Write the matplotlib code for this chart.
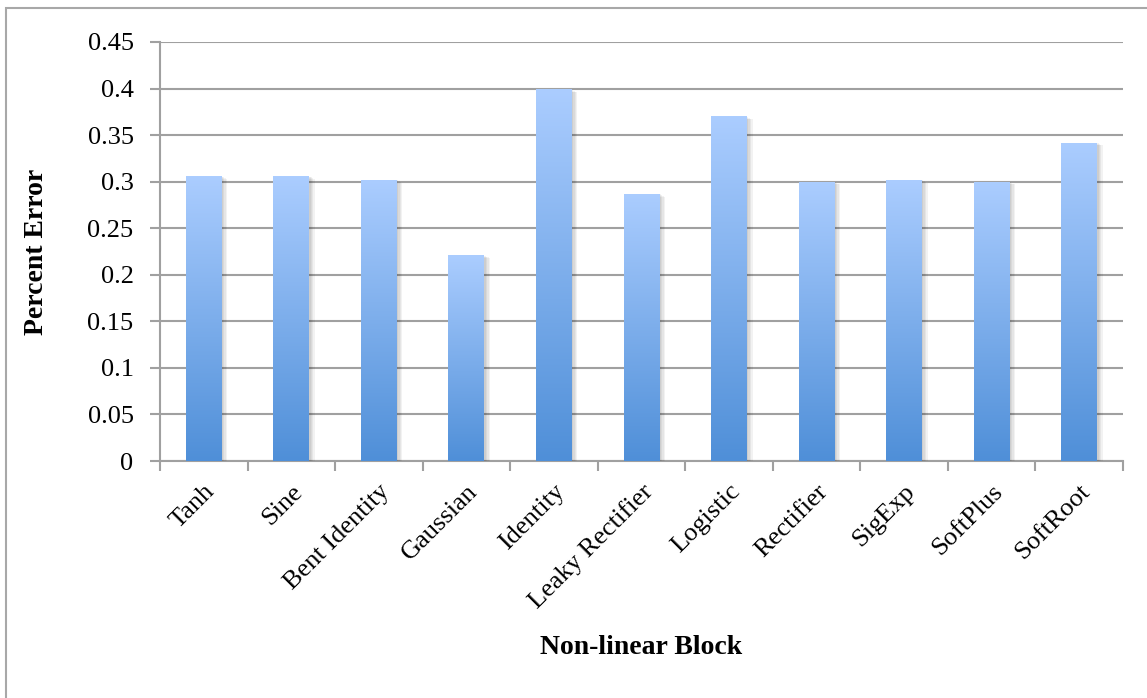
import numpy as np
import matplotlib
matplotlib.use('Agg')
import matplotlib.pyplot as plt
from matplotlib import patheffects as pe
from matplotlib.colors import LinearSegmentedColormap
from matplotlib.patches import Rectangle

blocks = ['Tanh', 'Sine', 'Bent Identity', 'Gaussian', 'Identity', 'Leaky Rectifier',
          'Logistic', 'Rectifier', 'SigExp', 'SoftPlus', 'SoftRoot']
errors = [0.306, 0.306, 0.302, 0.221, 0.399, 0.287, 0.370, 0.300, 0.302, 0.300, 0.342]
yticks = [0, 0.05, 0.1, 0.15, 0.2, 0.25, 0.3, 0.35, 0.4, 0.45]
ytick_labels = ['0', '0.05', '0.1', '0.15', '0.2', '0.25', '0.3', '0.35', '0.4', '0.45']

plt.rcParams['font.family'] = ['Liberation Serif', 'DejaVu Serif']

grid_col = '#a0a0a0'
fill = LinearSegmentedColormap.from_list('barfill', ['#4f8fd8', '#abcdff'])

fig = plt.figure(figsize=(11.47, 6.98), dpi=100)
# outer chart frame
fig.patches.append(Rectangle((6 / 1147, -0.1), 1.2, 1.1 - 8 / 698,
                             transform=fig.transFigure, fill=False,
                             edgecolor='#a8a8a8', linewidth=1.5))

ax = fig.add_axes([160 / 1147, 1 - 461 / 698, (1123 - 160) / 1147, (461 - 42) / 698])

x = np.arange(len(blocks))
width = 0.41
# soft drop shadow built from a few faint offset layers
shadow = [pe.SimplePatchShadow(offset=(o, -o * 0.5), shadow_rgbFace='#000000', alpha=0.05)
          for o in (1, 2, 3, 4)]
bars = ax.bar(x, errors, width=width, color='none', zorder=3, path_effects=shadow)

grad = np.linspace(0, 1, 256).reshape(-1, 1)
for b in bars:
    x0, h = b.get_x(), b.get_height()
    im = ax.imshow(grad, cmap=fill, origin='lower', aspect='auto',
                   extent=(x0, x0 + b.get_width(), 0, h), zorder=4)
    im.set_clip_path(b)

ax.set_xlim(-0.5, len(blocks) - 0.5)
ax.set_ylim(0, 0.45)
ax.set_yticks(yticks)
ax.set_yticklabels(ytick_labels, fontsize=19)
ax.set_xticks(np.arange(len(blocks) + 1) - 0.5, minor=False)
ax.set_xticklabels([])
ax.set_xticks(x, minor=True)
ax.set_xticklabels(blocks, minor=True, rotation=45, ha='right', va='top',
                   rotation_mode='anchor', fontsize=19)
ax.tick_params(axis='x', which='minor', length=0, pad=14)
ax.tick_params(axis='x', which='major', length=7, color=grid_col, width=1.5)
ax.tick_params(axis='y', length=7, color=grid_col, width=1.5, pad=12)

ax.yaxis.grid(True, color=grid_col, linewidth=1.5, zorder=0)
ax.set_axisbelow(True)
for s in ['top', 'right']:
    ax.spines[s].set_visible(False)
for s in ['left', 'bottom']:
    ax.spines[s].set_color(grid_col)
    ax.spines[s].set_linewidth(1.5)

ax.set_ylabel('Percent Error', fontsize=20, fontweight='bold', labelpad=28)
fig.text(641 / 1147, 1 - 648 / 698, 'Non-linear Block', fontsize=20, fontweight='bold',
         ha='center', va='center')

fig.savefig('out.png', dpi=100)
